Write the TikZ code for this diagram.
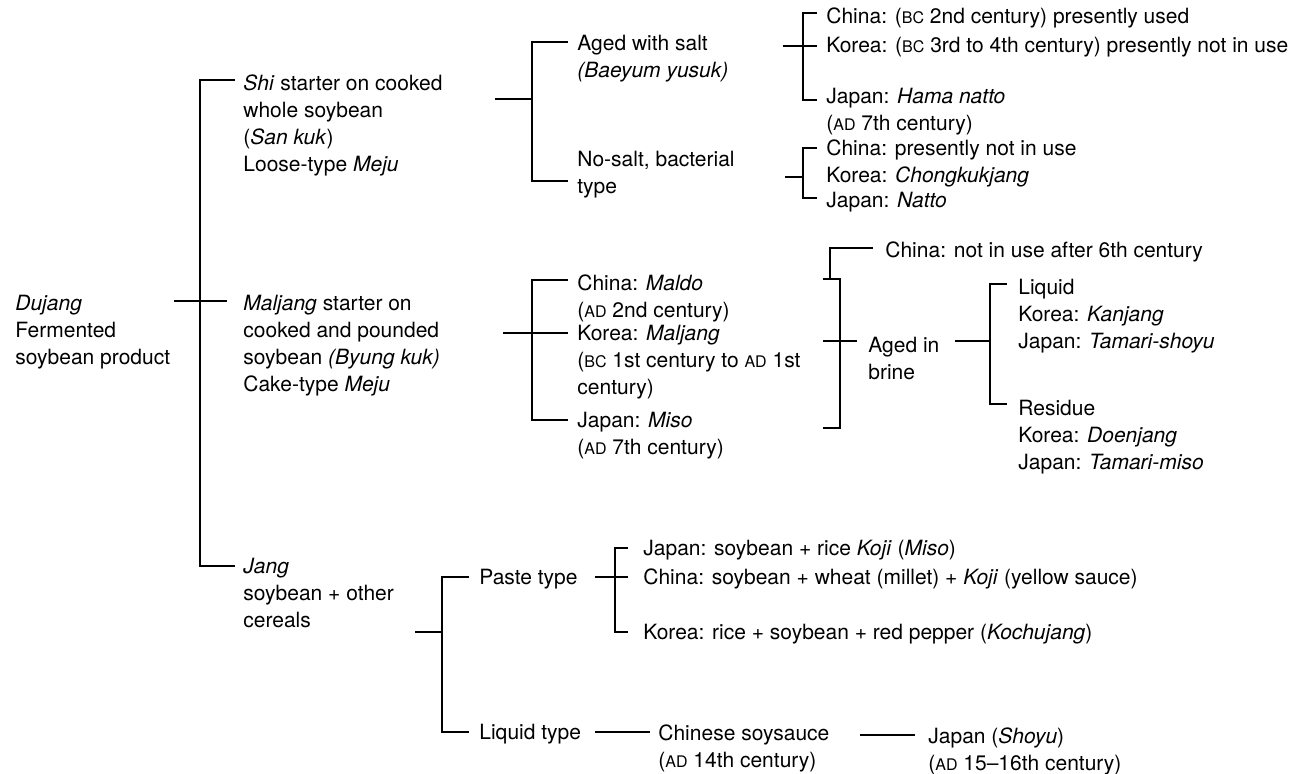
\documentclass[tikz,border=0pt]{standalone}
\usepackage{fontspec}
\setmainfont{TeX Gyre Heros}
\newcommand\lblfont{\fontsize{10.5}{13.5}\selectfont}
\newcommand\era[1]{{\fontsize{8}{10}\selectfont #1}}
\tikzset{
  lbl/.style={anchor=north west, yshift=6pt, inner sep=0pt, align=left, font=\lblfont},
  br/.style={line width=0.6pt}
}

\begin{document}
\begin{tikzpicture}[x=0.5pt,y=-0.5pt]
  \useasboundingbox (0,0) rectangle (1312,773);
  % texts
  \node[lbl] (root) at (15,303) {\strut\textit{Dujang}\\Fermented\\soybean product};
  \node[lbl] (shi) at (243,83) {\strut\textit{Shi} starter on cooked\\whole soybean\\(\textit{San kuk})\\Loose-type \textit{Meju}};
  \node[lbl] (malj) at (243,303) {\strut\textit{Maljang} starter on\\cooked and pounded\\soybean \textit{(Byung kuk)}\\Cake-type \textit{Meju}};
  \node[lbl] (jang) at (243,566) {\strut\textit{Jang}\\soybean + other\\cereals};
  %
  \node[lbl] (aged) at (577,43) {\strut Aged with salt\\\textit{(Baeyum yusuk)}};
  \node[lbl] (nosalt) at (577,159) {\strut No-salt, bacterial\\type};
  \node[lbl] (cnA) at (826,16) {\strut China: (\era{BC} 2nd century) presently used};
  \node[lbl] (krA) at (826,45) {\strut Korea: (\era{BC} 3rd to 4th century) presently not in use};
  \node[lbl] (jpA) at (826,96) {\strut Japan: \textit{Hama natto}\\(\era{AD} 7th century)};
  \node[lbl] (cnB) at (826,148) {\strut China: presently not in use};
  \node[lbl] (krB) at (826,175) {\strut Korea: \textit{Chongkukjang}};
  \node[lbl] (jpB) at (826,200) {\strut Japan: \textit{Natto}};
  %
  \node[lbl] (cnM) at (577,283) {\strut China: \textit{Maldo}\\(\era{AD} 2nd century)};
  \node[lbl] (krM) at (577,333) {\strut Korea: \textit{Maljang}\\(\era{BC} 1st century to \era{AD} 1st\\century)};
  \node[lbl] (jpM) at (577,420) {\strut Japan: \textit{Miso}\\(\era{AD} 7th century)};
  \node[lbl] (notuse) at (885,250) {\strut China: not in use after 6th century};
  \node[lbl] (brine) at (868,345) {\strut Aged in\\brine};
  \node[lbl] (liquid) at (1018,287) {\strut Liquid\\Korea: \textit{Kanjang}\\Japan: \textit{Tamari-shoyu}};
  \node[lbl] (residue) at (1018,408) {\strut Residue\\Korea: \textit{Doenjang}\\Japan: \textit{Tamari-miso}};
  %
  \node[lbl] (paste) at (479,577) {\strut Paste type};
  \node[lbl] (liqtype) at (479,732) {\strut Liquid type};
  \node[lbl] (jpP) at (643,548) {\strut Japan: soybean + rice \textit{Koji} (\textit{Miso})};
  \node[lbl] (cnP) at (643,577) {\strut China: soybean + wheat (millet) + \textit{Koji} (yellow sauce)};
  \node[lbl] (krP) at (643,632) {\strut Korea: rice + soybean + red pepper (\textit{Kochujang})};
  \node[lbl] (csoy) at (658,733) {\strut Chinese soysauce\\(\era{AD} 14th century)};
  \node[lbl] (shoyu) at (928,736) {\strut Japan (\textit{Shoyu})\\(\era{AD} 15--16th century)};
  %
  % junctions
  \coordinate (r0) at (174,301);
  \coordinate (r1) at (200,80);
  \coordinate (r2) at (200,566);
  \coordinate (s0) at (495,99);
  \coordinate (s1) at (532,42);
  \coordinate (s2) at (532,181);
  \coordinate (a0) at (783,46);
  \coordinate (a1) at (803,13);
  \coordinate (a2) at (803,100);
  \coordinate (n0) at (785,177);
  \coordinate (n1) at (803,148);
  \coordinate (n2) at (803,198);
  \coordinate (m0) at (503,333);
  \coordinate (m1) at (532,280);
  \coordinate (m2) at (532,420);
  \coordinate (k1) at (840,279);
  \coordinate (k2) at (840,428);
  \coordinate (k0) at (823,341);
  \coordinate (b0) at (955,341);
  \coordinate (b1) at (990,284);
  \coordinate (b2) at (990,404);
  \coordinate (j0) at (415,632);
  \coordinate (j1) at (442,577);
  \coordinate (j2) at (442,732);
  \coordinate (p0) at (595,577);
  \coordinate (p1) at (615,548);
  \coordinate (p2) at (615,632);
  \coordinate (q0) at (595,732);
  \coordinate (c0) at (860,735);
  %
  % root
  \draw[br] (r0) -- ([xshift=-8pt]malj.west |- r0);
  \draw[br] ([xshift=-4pt]shi.west |- r1) -- (r1) -- (r2) -- ([xshift=-4pt]jang.west |- r2);
  % shi
  \draw[br] (s0) -- (s0 -| s1);
  \draw[br] ([xshift=-4.5pt]aged.west |- s1) -- (s1) -- (s2) -- ([xshift=-4.5pt]nosalt.west |- s2);
  \draw[br] (a0) -- ([xshift=-4.5pt]krA.west |- a0);
  \draw[br] ([xshift=-4.5pt]cnA.west |- a1) -- (a1) -- (a2) -- ([xshift=-4.5pt]jpA.west |- a2);
  \draw[br] (n0) -- (n0 -| n1);
  \draw[br] ([xshift=-4.5pt]cnB.west |- n1) -- (n1) -- (n2) -- ([xshift=-4.5pt]jpB.west |- n2);
  % maljang
  \draw[br] (m0) -- ([xshift=-4.5pt]krM.west |- m0);
  \draw[br] ([xshift=-4.5pt]cnM.west |- m1) -- (m1) -- (m2) -- ([xshift=-4.5pt]jpM.west |- m2);
  \draw[br] (k1 -| k0) -- (k1) -- (k2) -- (k2 -| k0);
  \draw[br] (k0) -- ([xshift=-5.5pt]brine.west |- k0);
  \draw[br] (830,279) -- (830,248) -- ([xshift=-6pt]notuse.west |- 0,248);
  \draw[br] (b0) -- (b0 -| b1);
  \draw[br] ([xshift=-5.5pt]liquid.west |- b1) -- (b1) -- (b2) -- ([xshift=-5.5pt]residue.west |- b2);
  % jang
  \draw[br] (j0) -- (j0 -| j1);
  \draw[br] ([xshift=-5pt]paste.west |- j1) -- (j1) -- (j2) -- ([xshift=-5pt]liqtype.west |- j2);
  \draw[br] (p0) -- ([xshift=-7.5pt]cnP.west |- p0);
  \draw[br] ([xshift=-7.5pt]jpP.west |- p1) -- (p1) -- (p2) -- ([xshift=-7.5pt]krP.west |- p2);
  \draw[br] (q0) -- ([xshift=-4pt]csoy.west |- q0);
  \draw[br] (c0) -- ([xshift=-6.5pt]shoyu.west |- c0);
\end{tikzpicture}
\end{document}
